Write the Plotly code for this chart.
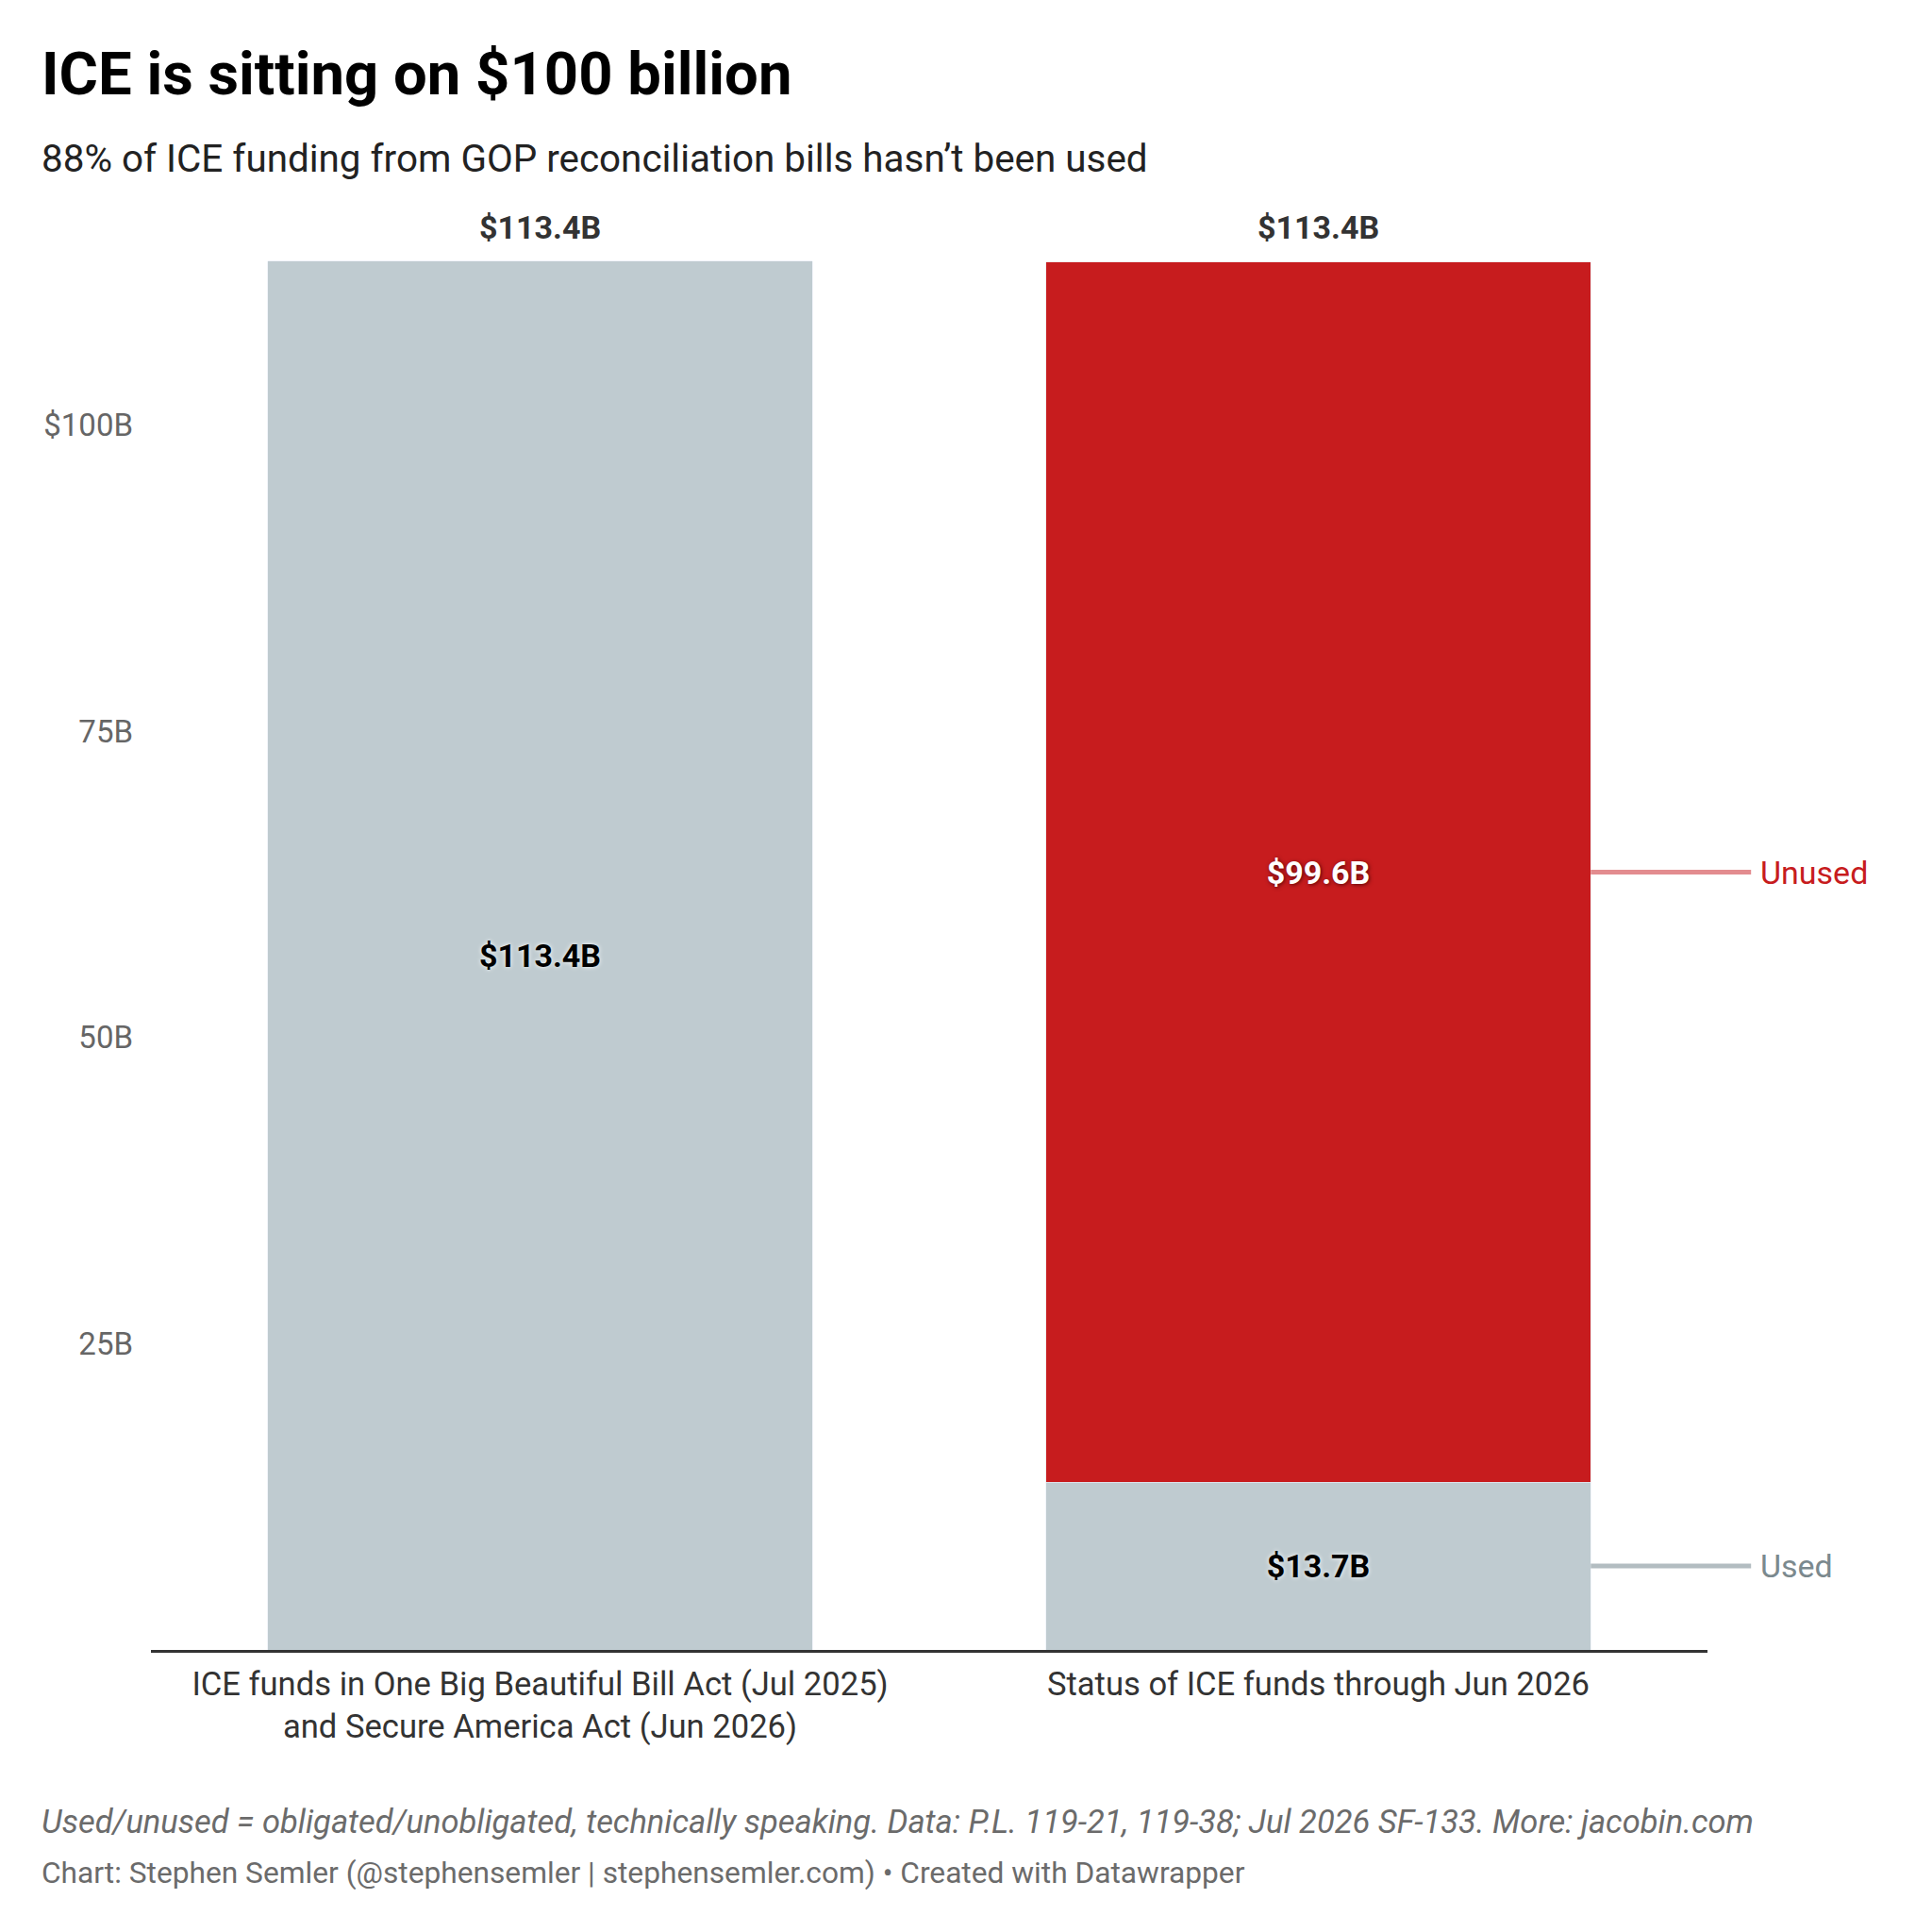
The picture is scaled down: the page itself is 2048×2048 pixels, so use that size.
import plotly.graph_objects as go

categories = ["ICE funds in One Big Beautiful Bill Act (Jul 2025)<br>and Secure America Act (Jun 2026)",
              "Status of ICE funds through Jun 2026"]
total_values = [113.4, None]
used_values = [None, 13.7]
unused_values = [None, 99.6]
totals = [113.4, 113.4]
y_ticks = [25, 50, 75, 100]
y_tick_labels = ["25B", "50B", "75B", "$100B"]

GRAY = "#bfcbd0"
RED = "#c71c1e"
FONT = "Roboto"
YMAX = 120
BARGAP = 0.3
W, H = 2048, 2048
ML, MR, MT, MB = 160, 238, 191, 299
PW = W - ML - MR
LEFT_X = (42 - ML) / PW  # paper x for left-aligned header/footer text

fig = go.Figure()
fig.add_trace(go.Bar(x=categories, y=total_values, name="Total", marker_color=GRAY,
                     text=[f"${v}B" if v else "" for v in total_values],
                     textposition="inside", insidetextanchor="middle",
                     textfont=dict(family=FONT, size=34, color="#000", weight="bold",
                                   shadow="0px 0px 5px #ffffff"),
                     hoverinfo="skip"))
fig.add_trace(go.Bar(x=categories, y=used_values, name="Used", marker_color=GRAY,
                     text=[f"${v}B" if v else "" for v in used_values],
                     textposition="inside", insidetextanchor="middle",
                     textfont=dict(family=FONT, size=34, color="#000", weight="bold",
                                   shadow="0px 0px 5px #ffffff"),
                     hoverinfo="skip"))
fig.add_trace(go.Bar(x=categories, y=unused_values, name="Unused", marker_color=RED,
                     text=[f"${v}B" if v else "" for v in unused_values],
                     textposition="inside", insidetextanchor="middle",
                     textfont=dict(family=FONT, size=34, color="#fff", weight="bold",
                                   shadow="1px 1px 4px rgba(60,0,0,0.8)"),
                     hoverinfo="skip"))

# totals above bars
for c, t in zip(categories, totals):
    fig.add_annotation(x=c, y=t, xref="x", yref="y", text=f"<b>${t}B</b>", showarrow=False,
                       yanchor="bottom", yshift=14,
                       font=dict(family=FONT, size=34, color="#333"))

# right-side labels for second bar
bar_right = (1 + (1 - BARGAP) / 2 + 0.5) / 2  # paper coords
line_end = bar_right + 0.103
used_mid = used_values[1] / 2
unused_mid = used_values[1] + unused_values[1] / 2
for mid, label, lc, tc in [(unused_mid, "Unused", "#e38c8f", RED), (used_mid, "Used", "#b3bdc1", "#7b898e")]:
    fig.add_shape(type="line", xref="paper", yref="paper", x0=bar_right, x1=line_end,
                  y0=mid / YMAX, y1=mid / YMAX, line=dict(color=lc, width=5))
    fig.add_annotation(xref="paper", yref="y", x=line_end + 0.005, y=mid, text=label,
                       showarrow=False, xanchor="left", yanchor="middle",
                       font=dict(family=FONT, size=34, color=tc))

# title, subtitle, footer
fig.add_annotation(xref="paper", yref="paper", x=LEFT_X, y=1, yshift=113, xanchor="left", yanchor="middle",
                   text="<b>ICE is sitting on $100 billion</b>", showarrow=False,
                   font=dict(family=FONT, size=63.4, color="#000"))
fig.add_annotation(xref="paper", yref="paper", x=LEFT_X, y=1, yshift=23, xanchor="left", yanchor="middle",
                   text="88% of ICE funding from GOP reconciliation bills hasn’t been used", showarrow=False,
                   font=dict(family=FONT, size=40.4, color="#222"))
fig.add_annotation(xref="paper", yref="paper", x=LEFT_X, y=0, yshift=-182, xanchor="left", yanchor="middle",
                   text="<i>Used/unused = obligated/unobligated, technically speaking. Data: P.L. 119-21, 119-38; Jul 2026 SF-133. More: jacobin.com</i>",
                   showarrow=False, font=dict(family=FONT, size=34.5, color="#6b6b6b"))
fig.add_annotation(xref="paper", yref="paper", x=LEFT_X, y=0, yshift=-236, xanchor="left", yanchor="middle",
                   text="Chart: Stephen Semler (@stephensemler | stephensemler.com) • Created with Datawrapper",
                   showarrow=False, font=dict(family=FONT, size=31.7, color="#6b6b6b"))

fig.update_layout(
    width=W, height=H,
    barmode="stack", bargap=BARGAP, showlegend=False,
    plot_bgcolor="#fff", paper_bgcolor="#fff",
    margin=dict(l=ML, r=MR, t=MT, b=MB),
    font=dict(family=FONT),
    xaxis=dict(showgrid=False, showline=True, linecolor="#333", linewidth=3, ticks="",
               ticklabelstandoff=3,
               tickfont=dict(family=FONT, size=34.6, color="#333"), fixedrange=True),
    yaxis=dict(range=[0, YMAX], showgrid=False, zeroline=False, showline=False,
               tickvals=y_ticks, ticktext=y_tick_labels, ticks="", ticklabelstandoff=18,
               tickfont=dict(family=FONT, size=33, color="#666"), fixedrange=True),
)

fig.write_html("out.html", config={"displayModeBar": False},
               post_script="document.body.style.margin='0';")
